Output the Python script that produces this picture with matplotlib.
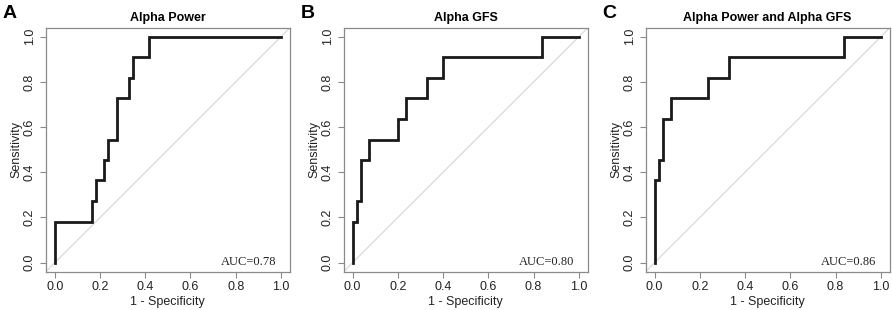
import matplotlib
matplotlib.use("Agg")
import matplotlib.pyplot as plt

# Data (1 - specificity, sensitivity corner points)
titles = ["Alpha Power", "Alpha GFS", "Alpha Power and Alpha GFS"]
panel_labels = ["A", "B", "C"]
auc_labels = ["AUC=0.78", "AUC=0.80", "AUC=0.86"]

fpr_a = [0.0, 0.0, 0.164, 0.182, 0.218, 0.236, 0.273, 0.327, 0.345, 0.418, 1.0]
sens_a = [0.0, 0.182, 0.273, 0.364, 0.455, 0.545, 0.727, 0.818, 0.909, 1.0, 1.0]

fpr_b = [0.0, 0.0, 0.018, 0.036, 0.073, 0.2, 0.236, 0.327, 0.4, 0.836, 1.0]
sens_b = [0.0, 0.182, 0.273, 0.455, 0.545, 0.636, 0.727, 0.818, 0.909, 1.0, 1.0]

fpr_c = [0.0, 0.0, 0.018, 0.036, 0.073, 0.236, 0.327, 0.836, 1.0]
sens_c = [0.0, 0.364, 0.455, 0.636, 0.727, 0.818, 0.909, 1.0, 1.0]

ticks = [0.0, 0.2, 0.4, 0.6, 0.8, 1.0]
tick_labels = ["0.0", "0.2", "0.4", "0.6", "0.8", "1.0"]

plt.rcParams['font.family'] = ['Liberation Sans', 'DejaVu Sans']

W, H = 892, 310
fig = plt.figure(figsize=(W / 100, H / 100), dpi=100)

lefts = [45.7, 343.5, 645.5]
ax_w, ax_h = 244.3, 244.0
box_bottom = 271.7

curves = [(fpr_a, sens_a), (fpr_b, sens_b), (fpr_c, sens_c)]
frame_col = "#8a8a8a"

for i, (fx, sy) in enumerate(curves):
    ax = fig.add_axes([lefts[i] / W, (H - box_bottom) / H, ax_w / W, ax_h / H])
    ax.set_xlim(-0.04, 1.04)
    ax.set_ylim(-0.04, 1.04)
    ax.axline((0, 0), (1, 1), color="#dadada", lw=0.9, zorder=1)
    ax.plot(fx, sy, drawstyle="steps-post", color="#1a1a1a", lw=2.0, zorder=3,
            solid_joinstyle="miter")
    ax.set_xticks(ticks)
    ax.set_xticklabels(tick_labels)
    ax.set_yticks(ticks)
    ax.set_yticklabels(tick_labels, rotation=90, va="center")
    ax.tick_params(direction="out", length=4, width=0.8, color=frame_col,
                   labelsize=9, labelcolor="#222222", pad=3)
    for s in ax.spines.values():
        s.set_color(frame_col)
        s.set_linewidth(0.9)
    ax.set_xlabel("1 - Specificity", fontsize=9, color="#222222", labelpad=2)
    ax.set_ylabel("Sensitivity", fontsize=9, color="#222222", labelpad=1)
    ax.set_title(titles[i], fontsize=9, fontweight="bold", pad=5)
    ax.text(0.98, 0.005, auc_labels[i], ha="right", va="center",
            fontsize=9, family=["Liberation Serif", "DejaVu Serif"], color="#222222")
    fig.text((lefts[i] - 43) / W, 1 - 13.5 / H, panel_labels[i], fontsize=14,
             fontweight="bold", ha="left", va="center")

fig.savefig("out.png", dpi=100)
